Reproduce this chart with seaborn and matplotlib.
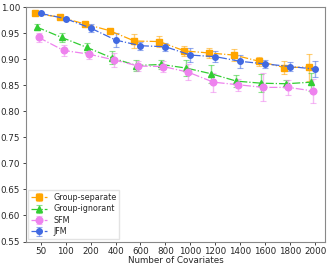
import numpy as np
import pandas as pd
import seaborn as sns
import matplotlib
matplotlib.use("Agg")
import matplotlib.pyplot as plt

covariates = ['50', '100', '200', '400', '600', '800', '1000', '1200', '1400', '1600', '1800', '2000']

group_separate = [0.988, 0.981, 0.968, 0.955, 0.935, 0.934, 0.916, 0.912, 0.908, 0.896, 0.884, 0.885]
group_separate_err = [0.002, 0.002, 0.003, 0.003, 0.014, 0.010, 0.010, 0.010, 0.011, 0.008, 0.013, 0.026]

group_ignorant = [0.962, 0.942, 0.923, 0.903, 0.888, 0.890, 0.883, 0.872, 0.858, 0.854, 0.853, 0.856]
group_ignorant_err = [0.006, 0.009, 0.009, 0.013, 0.010, 0.008, 0.015, 0.017, 0.012, 0.017, 0.007, 0.017]

sfm = [0.942, 0.917, 0.910, 0.899, 0.887, 0.886, 0.875, 0.856, 0.851, 0.846, 0.846, 0.839]
sfm_err = [0.009, 0.010, 0.009, 0.013, 0.009, 0.010, 0.015, 0.018, 0.012, 0.027, 0.015, 0.023]

jfm = [0.988, 0.978, 0.960, 0.937, 0.926, 0.924, 0.908, 0.905, 0.896, 0.891, 0.886, 0.881]
jfm_err = [0.002, 0.002, 0.007, 0.013, 0.008, 0.008, 0.013, 0.010, 0.013, 0.008, 0.009, 0.016]

sns.set_style("ticks")
plt.rcParams['font.family'] = ['DejaVu Sans']

fig, ax = plt.subplots(figsize=(3.32, 2.66), dpi=100)

series = [
    ('Group-separate', group_separate, group_separate_err, 'orange', 's', 4.8, -0.24),
    ('Group-ignorant', group_ignorant, group_ignorant_err, 'limegreen', '^', 4.8, -0.16),
    ('SFM', sfm, sfm_err, 'violet', 'o', 4.8, -0.08),
    ('JFM', jfm, jfm_err, 'royalblue', 'o', 4.0, 0.0),
]

idx = np.arange(len(covariates))
for name, vals, errs, col, mk, ms, off in series:
    df = pd.DataFrame({'x': idx + off, 'y': vals, 'err': errs})
    eb = ax.errorbar(df['x'], df['y'], yerr=df['err'], color=col, marker=mk, markersize=ms,
                     linestyle='-.', linewidth=0.9, elinewidth=1.0, capsize=2.5, capthick=0.8,
                     label=name)
    for art in eb[1] + eb[2]:
        art.set_alpha(0.55)

ax.set_xticks(idx)
ax.set_xticklabels(covariates)
ax.set_xlim(-0.6, 11.4)
ax.set_ylim(0.55, 1.00)
ax.set_yticks(np.arange(0.55, 1.001, 0.05))
ax.yaxis.set_major_formatter(matplotlib.ticker.FormatStrFormatter('%.2f'))
ax.tick_params(labelsize=6.3, length=2.5, width=0.6, pad=1.5)
ax.set_xlabel('Number of Covariates', fontsize=6.3, labelpad=0)
for sp in ax.spines.values():
    sp.set_color('#888888')
    sp.set_linewidth(0.8)

ax.legend(loc='lower left', fontsize=5.8, frameon=True, framealpha=0.8, edgecolor='#dddddd',
          handlelength=2.0, borderpad=0.35, labelspacing=0.3, borderaxespad=0.3, fancybox=False)

fig.subplots_adjust(left=0.077, right=0.98, top=0.973, bottom=0.092)
fig.savefig('out.png', dpi=100)
